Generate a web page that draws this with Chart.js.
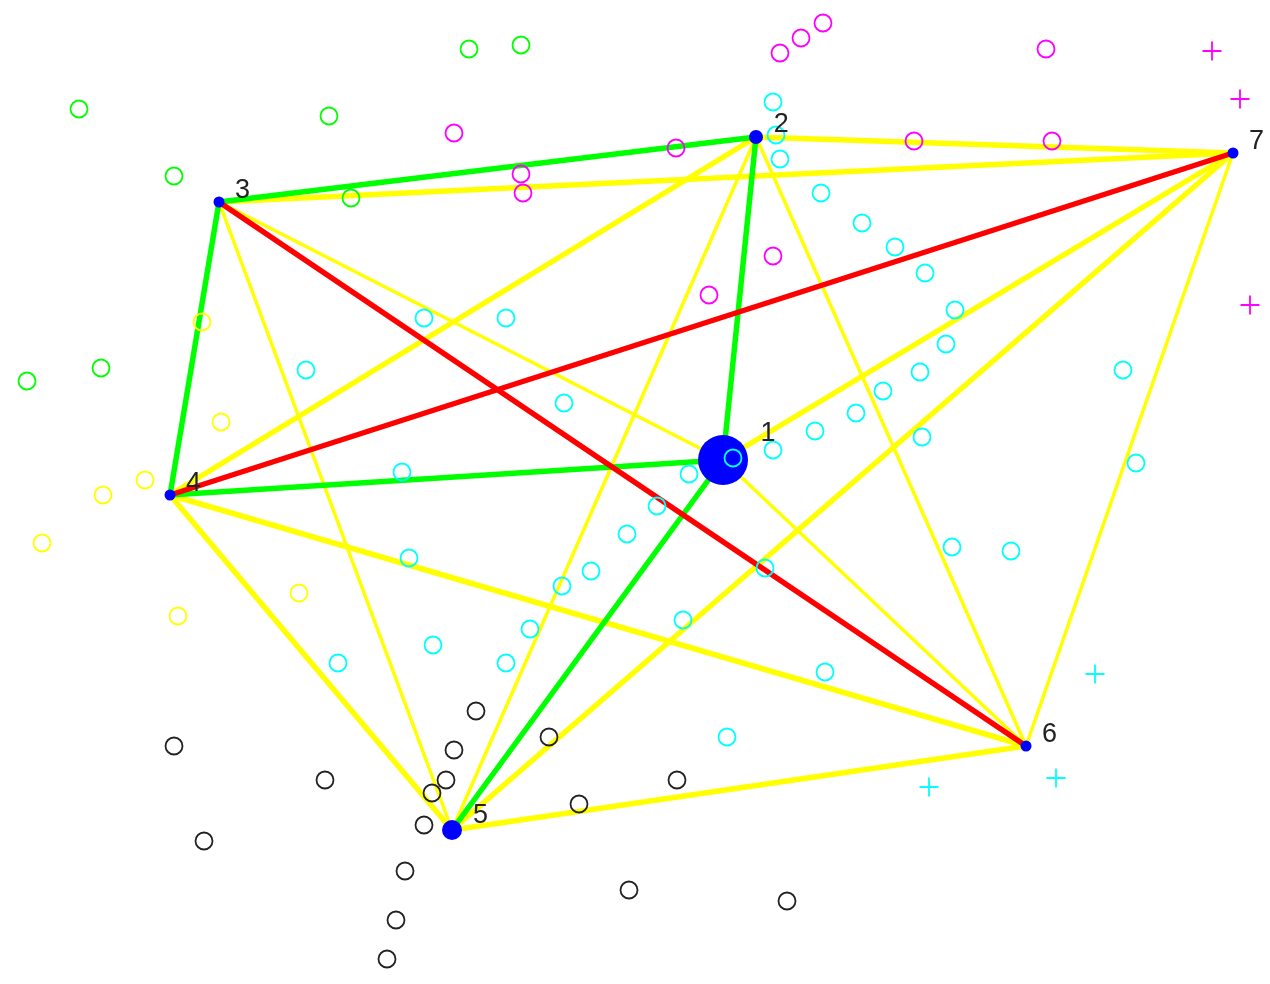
<!DOCTYPE html>
<html>
<head>
<meta charset="utf-8">
<script src="https://cdn.jsdelivr.net/npm/chart.js@4"></script>
<style>
  body { margin: 0; background: #fff; }
</style>
</head>
<body>
<canvas id="myChart" width="1270" height="984"></canvas>
<script>
// graph nodes (in plot units)
const nodeLabels = ['1', '2', '3', '4', '5', '6', '7'];
const nodeX = [723, 756, 219, 170, 452, 1026, 1233];
const nodeY = [460, 137, 202, 495, 830, 746, 153];
const nodeSize = [25, 7, 5.5, 5.5, 10, 5.5, 5.5];

// edges between nodes (1-based), kind: 'pos' green, 'neg' red, 'strong'/'weak' yellow
const edgeFrom = [1, 1, 1, 1, 1, 1, 2, 2, 2, 2, 2, 3, 3, 3, 3, 4, 4, 4, 5, 5, 6];
const edgeTo   = [2, 3, 4, 5, 6, 7, 3, 4, 5, 6, 7, 4, 5, 6, 7, 5, 6, 7, 6, 7, 7];
const edgeKind = ['pos', 'weak', 'pos', 'pos', 'weak', 'strong',
                  'pos', 'strong', 'weak', 'weak', 'strong',
                  'pos', 'weak', 'neg', 'strong',
                  'strong', 'strong', 'neg',
                  'strong', 'strong',
                  'weak'];

// scattered samples per group
const greenX = [79, 329, 174, 351, 469, 521, 27, 101];
const greenY = [109, 116, 176, 198, 49, 45, 381, 368];

const magentaX = [780, 801, 823, 454, 676, 521, 523, 773, 709, 1046, 914, 1052];
const magentaY = [53, 38, 23, 133, 148, 174, 193, 256, 295, 49, 141, 141];

const yellowX = [202, 221, 145, 103, 42, 299, 178];
const yellowY = [322, 422, 480, 495, 543, 593, 616];

const blackX = [174, 325, 204, 432, 424, 405, 396, 387, 476, 454, 446, 549, 579, 677, 629, 787];
const blackY = [746, 780, 841, 793, 825, 871, 920, 959, 711, 750, 780, 737, 804, 780, 890, 901];

const cyanX = [773, 776, 780, 821, 424, 506, 862, 895, 925, 955, 946, 920, 883, 856, 922, 1123,
               1136, 952, 1011, 306, 402, 409, 564, 733, 773, 815, 689, 657, 627, 591, 562, 765,
               530, 433, 683, 338, 506, 825, 727];
const cyanY = [102, 135, 159, 193, 318, 318, 223, 247, 273, 310, 344, 372, 391, 413, 437, 370,
               463, 547, 551, 370, 472, 558, 403, 458, 450, 431, 474, 506, 534, 571, 586, 568,
               629, 645, 620, 663, 663, 672, 737];

const magentaPlusX = [1212, 1240, 1250];
const magentaPlusY = [51, 99, 305];
const cyanPlusX = [1095, 929, 1056];
const cyanPlusY = [674, 787, 778];

function pts(xs, ys) {
  return xs.map((x, i) => ({x: x, y: ys[i]}));
}

const edgeColor = {pos: '#00ff00', neg: '#ff0000', strong: '#ffff00', weak: '#ffff00'};
const edgeWidth = {pos: 5.5, neg: 5.5, strong: 5.5, weak: 3.5};
const edgeOrder = {pos: 3, neg: 2, strong: 4, weak: 4};

const datasets = [];

edgeFrom.forEach((a, i) => {
  const b = edgeTo[i];
  const k = edgeKind[i];
  datasets.push({
    data: [{x: nodeX[a - 1], y: nodeY[a - 1]}, {x: nodeX[b - 1], y: nodeY[b - 1]}],
    showLine: true,
    borderColor: edgeColor[k],
    borderWidth: edgeWidth[k],
    pointRadius: 0,
    order: edgeOrder[k],
    clip: false
  });
});

datasets.push({
  data: pts(nodeX, nodeY),
  pointRadius: nodeSize,
  backgroundColor: '#0000ff',
  borderColor: '#0000ff',
  borderWidth: 0,
  order: 1,
  clip: false
});

function circles(xs, ys, color) {
  return {
    data: pts(xs, ys),
    pointStyle: 'circle',
    pointRadius: 8.5,
    backgroundColor: 'rgba(0,0,0,0)',
    borderColor: color,
    borderWidth: 1.8,
    order: 0,
    clip: false
  };
}
function pluses(xs, ys, color) {
  return {
    data: pts(xs, ys),
    pointStyle: 'cross',
    pointRadius: 9.5,
    borderColor: color,
    borderWidth: 1.8,
    order: 0,
    clip: false
  };
}

datasets.push(circles(greenX, greenY, '#00ff00'));
datasets.push(circles(magentaX, magentaY, '#ff00ff'));
datasets.push(circles(yellowX, yellowY, '#ffff00'));
datasets.push(circles(blackX, blackY, '#222222'));
datasets.push(circles(cyanX, cyanY, '#00ffff'));
datasets.push(pluses(magentaPlusX, magentaPlusY, '#ff00ff'));
datasets.push(pluses(cyanPlusX, cyanPlusY, '#00ffff'));

// node numbers next to each node
const nodeNames = {
  id: 'nodeNames',
  afterDatasetsDraw(chart) {
    const c = chart.ctx;
    const xs = chart.scales.x, ys = chart.scales.y;
    c.save();
    c.font = '27px "Liberation Sans", sans-serif';
    c.fillStyle = '#222';
    c.textBaseline = 'alphabetic';
    nodeLabels.forEach((t, i) => {
      const r = nodeSize[i];
      c.fillText(t, xs.getPixelForValue(nodeX[i]) + 10 + r * 1.1,
                    ys.getPixelForValue(nodeY[i]) - r * 0.75);
    });
    c.restore();
  }
};

const ctx = document.getElementById('myChart');

new Chart(ctx, {
  type: 'scatter',
  data: { datasets: datasets },
  options: {
    responsive: false,
    animation: false,
    layout: { padding: 0, autoPadding: false },
    scales: {
      x: { type: 'linear', min: 0, max: 1270, display: false },
      y: { type: 'linear', min: 0, max: 984, reverse: true, display: false }
    },
    plugins: {
      legend: { display: false },
      tooltip: { enabled: false }
    }
  },
  plugins: [nodeNames]
});
</script>
</body>
</html>
